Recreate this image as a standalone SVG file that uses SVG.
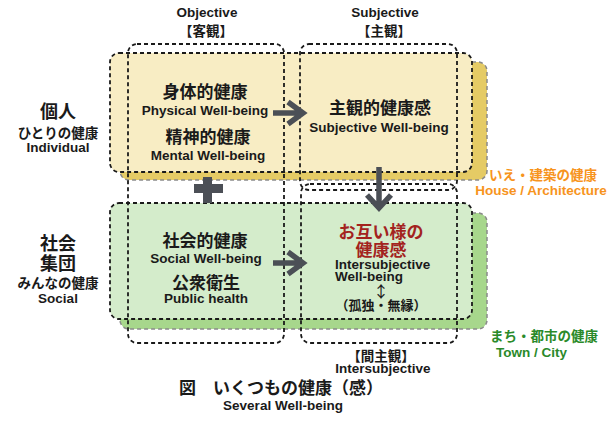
<svg xmlns="http://www.w3.org/2000/svg" width="610" height="422" viewBox="0 0 610 422">
<style>
text{font-family:"Liberation Sans","Noto Sans CJK JP",sans-serif;font-weight:bold;fill:#1a1a1a;text-anchor:middle}
.jp{font-family:"Noto Sans CJK JP",sans-serif}
.t17{font-size:17px}
.t14{font-size:13.5px}
.en{font-size:13.5px}
.dash{fill:none;stroke:#1a1a1a;stroke-width:1.8;stroke-dasharray:4 3}
.shd{stroke:#8a8a8a;stroke-width:1.5;stroke-dasharray:4 3}
.arr{fill:none;stroke:#4b4f56;stroke-width:5.5}
</style>
<rect width="610" height="422" fill="#ffffff"/>
<g id="background-rows">
<rect x="120" y="62" width="367" height="118" rx="9" style="fill:#e5cb65" class="shd"/>
<rect x="110" y="53" width="362" height="119" rx="9" class="dash" style="fill:#f8edc4"/>
<rect x="120" y="213" width="367" height="116" rx="9" style="fill:#a7d78c" class="shd"/>
<rect x="110" y="203" width="362" height="116" rx="9" class="dash" style="fill:#d4eccb"/>
</g>
<g id="columns">
<rect x="128" y="44" width="156" height="299" rx="9" class="dash"/>
<rect x="300" y="44" width="157" height="146" rx="9" class="dash"/>
<rect x="301" y="184" width="156" height="159" rx="9" class="dash"/>
</g>
<g id="headers">
<text x="207" y="17" class="en">Objective</text>
<text x="206" y="36" class="jp t14">【客観】</text>
<text x="385" y="17" class="en">Subjective</text>
<text x="384" y="36" class="jp t14">【主観】</text>
</g>
<g id="row-individual">
<text x="58" y="118" class="jp" font-size="18">個人</text>
<text x="58" y="138" class="jp t14">ひとりの健康</text>
<text x="58" y="152" class="en">Individual</text>
</g>
<g id="row-social">
<text x="58" y="250" class="jp" font-size="18">社会</text>
<text x="58" y="270" class="jp" font-size="18">集団</text>
<text x="58" y="288" class="jp t14">みんなの健康</text>
<text x="58" y="303" class="en">Social</text>
</g>
<g id="node-physical">
<text x="205" y="98" class="jp t17">身体的健康</text>
<text x="205" y="115" class="en">Physical Well-being</text>
<text x="208" y="143" class="jp t17">精神的健康</text>
<text x="208" y="160" class="en">Mental Well-being</text>
</g>
<g id="node-subjective">
<text x="380" y="114" class="jp t17">主観的健康感</text>
<text x="379" y="132" class="en">Subjective Well-being</text>
</g>
<g id="node-social">
<text x="205" y="247" class="jp t17">社会的健康</text>
<text x="206" y="263" class="en">Social Well-being</text>
<text x="206" y="289" class="jp t17">公衆衛生</text>
<text x="206" y="303" class="en">Public health</text>
</g>
<g id="node-intersubjective">
<text x="381" y="238" class="jp t17" style="fill:#a3231e">お互い様の</text>
<text x="381" y="256" class="jp t17" style="fill:#a3231e">健康感</text>
<text x="335" y="269" class="en" style="text-anchor:start">Intersubjective</text>
<text x="335" y="281" class="en" style="text-anchor:start">Well-being</text>
<text x="381" y="297" class="jp" font-size="16" style="font-weight:normal">↕</text>
<text x="381" y="310" class="jp" font-size="13">（孤独・無縁）</text>
</g>
<g id="label-house">
<text x="543" y="180" class="jp t14" style="fill:#f7941d">いえ・建築の健康</text>
<text x="541" y="195" class="en" style="fill:#f7941d">House / Architecture</text>
</g>
<g id="label-town">
<text x="490" y="341" class="jp t14" style="fill:#2a8a2a;text-anchor:start">まち・都市の健康</text>
<text x="496" y="357" class="en" style="fill:#2a8a2a;text-anchor:start">Town / City</text>
</g>
<g id="footer">
<text x="381" y="361" class="jp t14">【間主観】</text>
<text x="383" y="373" class="en">Intersubjective</text>
<text x="281" y="394" class="jp t17">図　いくつもの健康（感）</text>
<text x="283" y="410" class="en">Several Well-being</text>
</g>
<g id="connectors">
<path class="arr" d="M273 113H303M288 102L303 113L288 124"/>
<path class="arr" d="M273 263H303M288 252L303 263L288 274"/>
<path class="arr" d="M379 167V208M367 195L379 208L391 195"/>
<path d="M203 177h9v7h11v9h-11v10h-9v-10h-9v-9h9z" fill="#4b4f56"/>
</g>
</svg>
